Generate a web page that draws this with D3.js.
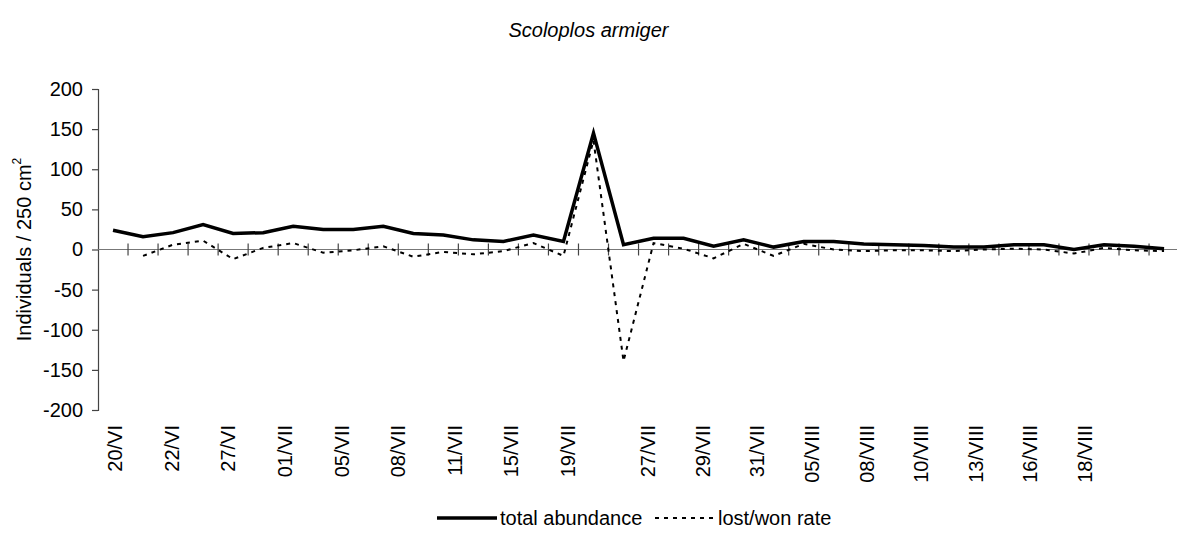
<!DOCTYPE html>
<html>
<head>
<meta charset="utf-8">
<script src="https://cdn.jsdelivr.net/npm/d3@7"></script>
<style>
  body { margin: 0; background: #fff; }
  text { font-family: "Liberation Sans", Arial, sans-serif; fill: #000; }
</style>
</head>
<body>
<svg id="chart"></svg>
<script>
// values, one per sampling date
const total = [24, 16, 21, 31, 20, 21, 29, 25, 25, 29, 20, 18, 12, 10, 18, 10, 145, 6,
               14, 14, 4, 12, 3, 10, 10, 7, 6, 5, 3, 3, 6, 6, 0, 6, 4, 1];
const rate = [null, -8, 6, 11, -12, 2, 8, -4, -1, 4, -9, -3, -6, -2, 8, -8, 136, -139,
              8, 1, -11, 7, -8, 7, 0, -2, -1, -1, -2, 0, 1, 0, -5, 2, -1, -2];
const xLabels = ['20/VI', '22/VI', '27/VI', '01/VII', '05/VII', '08/VII', '11/VII', '15/VII', '19/VII',
                 '27/VII', '29/VII', '31/VII', '05/VIII', '08/VIII', '10/VIII', '13/VIII', '16/VIII', '18/VIII'];
const yTicks = [-200, -150, -100, -50, 0, 50, 100, 150, 200];

let chart = {
    width: 1177,
    height: 538,
    left: 98,
    top: 89,
    bottom: 410,
    xScale: null,
    yScale: null,

    drawAxis: (svg) => {
        chart.xScale = d3.scaleBand()
            .domain(d3.range(total.length))
            .range([chart.left, chart.left + total.length * 30.03])
            .padding(0);
        chart.yScale = d3.scaleLinear()
            .domain([-200, 200])
            .range([chart.bottom, chart.top]);

        // y axis
        let axis_y = d3.axisLeft(chart.yScale)
            .tickValues(yTicks)
            .tickSize(6)
            .tickPadding(9)
            .tickFormat(d => d);
        let gy = svg.append('g')
            .attr('transform', `translate(${chart.left}, 0)`)
            .call(axis_y);
        gy.select('.domain').attr('stroke', '#444').attr('stroke-width', 1.2);
        gy.selectAll('.tick line').attr('stroke', '#444').attr('stroke-width', 1.2);
        gy.selectAll('text')
            .attr('font-family', '"Liberation Sans", Arial, sans-serif')
            .attr('font-size', 20)
            .attr('fill', '#000');

        // zero line with crossing category ticks
        let y0 = chart.yScale(0);
        svg.append('line')
            .attr('x1', chart.left).attr('x2', chart.xScale.range()[1])
            .attr('y1', y0).attr('y2', y0)
            .attr('stroke', '#777').attr('stroke-width', 1.2);
        svg.append('g')
            .selectAll('line')
            .data(d3.range(1, total.length))
            .join('line')
            .attr('x1', d => chart.xScale(d)).attr('x2', d => chart.xScale(d))
            .attr('y1', y0 - 6).attr('y2', y0 + 6)
            .attr('stroke', '#444').attr('stroke-width', 1.2);

        // x labels sit on their own spacing in the original
        let labelX = d3.scaleLinear()
            .domain([0, 8, 9, 17])
            .range([115, 568, 648, 1085]);
        svg.append('g')
            .selectAll('text')
            .data(xLabels)
            .join('text')
            .attr('transform', (d, i) => `translate(${labelX(i)}, 425) rotate(-90)`)
            .attr('text-anchor', 'end')
            .attr('dy', '0.35em')
            .attr('font-size', 20)
            .text(d => d);

        // y axis title
        let yt = svg.append('text')
            .attr('transform', `translate(24, ${(chart.top + chart.bottom) / 2}) rotate(-90)`)
            .attr('text-anchor', 'middle')
            .attr('dy', '0.35em')
            .attr('font-size', 20);
        yt.append('tspan').text('Individuals / 250 cm');
        yt.append('tspan').attr('font-size', 12).attr('dy', '-0.8em').text('2');
    },

    drawLines: (svg) => {
        let cx = i => chart.xScale(i) + chart.xScale.bandwidth() / 2;
        let line = d3.line()
            .defined(d => d != null)
            .x((d, i) => cx(i))
            .y(d => chart.yScale(d));

        svg.append('path')
            .datum(rate)
            .attr('d', line)
            .attr('fill', 'none')
            .attr('stroke', '#000')
            .attr('stroke-width', 2)
            .attr('stroke-dasharray', '4,5');

        svg.append('path')
            .datum(total)
            .attr('d', line)
            .attr('fill', 'none')
            .attr('stroke', '#000')
            .attr('stroke-width', 3.5)
            .attr('stroke-linejoin', 'miter');
    },

    drawTitle: (svg) => {
        svg.append('text')
            .attr('x', chart.width / 2)
            .attr('y', 30)
            .attr('text-anchor', 'middle')
            .attr('dy', '0.35em')
            .attr('font-size', 20)
            .attr('font-style', 'italic')
            .text('Scoloplos armiger');
    },

    drawLegend: (svg) => {
        let g = svg.append('g').attr('transform', 'translate(0, 518)');
        g.append('line')
            .attr('x1', 437).attr('x2', 497)
            .attr('stroke', '#000').attr('stroke-width', 3.5);
        g.append('text').attr('x', 500).attr('dy', '0.35em').attr('font-size', 20).text('total abundance');
        g.append('line')
            .attr('x1', 655).attr('x2', 715)
            .attr('stroke', '#000').attr('stroke-width', 2)
            .attr('stroke-dasharray', '4,5');
        g.append('text').attr('x', 718).attr('dy', '0.35em').attr('font-size', 20).text('lost/won rate');
    },

    drawMain: () => {
        let svg = d3.select('#chart')
            .attr('width', chart.width)
            .attr('height', chart.height);
        chart.drawTitle(svg);
        chart.drawAxis(svg);
        chart.drawLines(svg);
        chart.drawLegend(svg);
    }
};

chart.drawMain();
</script>
</body>
</html>
